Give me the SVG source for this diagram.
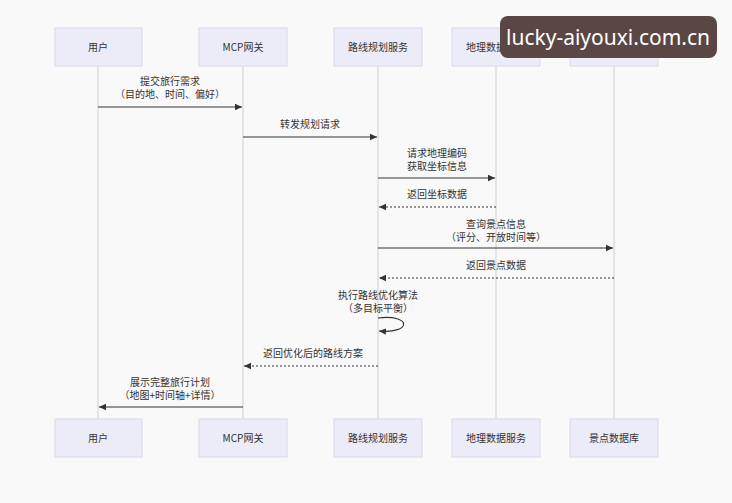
<svg xmlns="http://www.w3.org/2000/svg" width="732" height="503" viewBox="0 0 732 503">
<style>
.box{fill:#ececf8;stroke:#d8d8e8;stroke-width:1}
.t{font-family:"Noto Sans CJK SC","Liberation Sans",sans-serif;font-size:10px;fill:#333;text-anchor:middle}
.life{stroke:#cfcfcf;stroke-width:1}
.m{stroke:#333;stroke-width:1.2;fill:none}
.d{stroke:#333;stroke-width:1.2;fill:none;stroke-dasharray:2,2}
</style>
<defs><marker id="a" markerWidth="8" markerHeight="8" refX="7" refY="4" orient="auto" markerUnits="userSpaceOnUse"><path d="M0,0.8 L7,4 L0,7.2z" fill="#333"/></marker></defs>
<rect width="732" height="503" fill="#faf9f9"/>
<g id="lifelines">
<line class="life" x1="98" y1="66" x2="98" y2="419"/>
<line class="life" x1="243" y1="66" x2="243" y2="419"/>
<line class="life" x1="378" y1="66" x2="378" y2="419"/>
<line class="life" x1="496" y1="66" x2="496" y2="419"/>
<line class="life" x1="614" y1="66" x2="614" y2="419"/>
</g>
<g id="user"><rect class="box" x="55" y="28" width="87" height="38"/><text class="t" x="98" y="51">用户</text><rect class="box" x="55" y="419" width="87" height="38"/><text class="t" x="98" y="442">用户</text></g>
<g id="gateway"><rect class="box" x="199" y="28" width="88" height="38"/><text class="t" x="243" y="51">MCP网关</text><rect class="box" x="199" y="419" width="88" height="38"/><text class="t" x="243" y="442">MCP网关</text></g>
<g id="route"><rect class="box" x="334" y="28" width="88" height="38"/><text class="t" x="378" y="51">路线规划服务</text><rect class="box" x="334" y="419" width="88" height="38"/><text class="t" x="378" y="442">路线规划服务</text></g>
<g id="geo"><rect class="box" x="452" y="28" width="88" height="38"/><text class="t" x="496" y="51">地理数据服务</text><rect class="box" x="452" y="419" width="88" height="38"/><text class="t" x="496" y="442">地理数据服务</text></g>
<g id="scenic"><rect class="box" x="570" y="28" width="88" height="38"/><text class="t" x="614" y="51">景点数据库</text><rect class="box" x="570" y="419" width="88" height="38"/><text class="t" x="614" y="442">景点数据库</text></g>
<g id="connectors">
<text class="t" x="170" y="85">提交旅行需求</text><text class="t" x="170" y="98">（目的地、时间、偏好）</text>
<line class="m" x1="98" y1="107" x2="242" y2="107" marker-end="url(#a)"/>
<text class="t" x="310" y="128">转发规划请求</text>
<line class="m" x1="243" y1="137" x2="377" y2="137" marker-end="url(#a)"/>
<text class="t" x="437" y="157">请求地理编码</text><text class="t" x="437" y="170">获取坐标信息</text>
<line class="m" x1="378" y1="178" x2="495" y2="178" marker-end="url(#a)"/>
<text class="t" x="437" y="198">返回坐标数据</text>
<line class="d" x1="496" y1="207" x2="379" y2="207" marker-end="url(#a)"/>
<text class="t" x="496" y="228">查询景点信息</text><text class="t" x="496" y="241">（评分、开放时间等）</text>
<line class="m" x1="378" y1="248" x2="613" y2="248" marker-end="url(#a)"/>
<text class="t" x="496" y="269">返回景点数据</text>
<line class="d" x1="614" y1="278" x2="379" y2="278" marker-end="url(#a)"/>
<text class="t" x="378" y="299">执行路线优化算法</text><text class="t" x="378" y="312">（多目标平衡）</text>
<path class="m" d="M378,318 C412,314 412,334 379,331" marker-end="url(#a)"/>
<text class="t" x="313" y="357">返回优化后的路线方案</text>
<line class="d" x1="378" y1="366" x2="244" y2="366" marker-end="url(#a)"/>
<text class="t" x="170" y="386">展示完整旅行计划</text><text class="t" x="170" y="399">（地图+时间轴+详情）</text>
<line class="m" x1="243" y1="407" x2="99" y2="407" marker-end="url(#a)"/>
</g>
<g id="watermark"><rect x="500" y="16" width="217" height="42" rx="8" fill="#5b4646"/><text x="608" y="45" font-family="Noto Sans,sans-serif" font-size="21" fill="#fff" text-anchor="middle">lucky-aiyouxi.com.cn</text></g>
</svg>
